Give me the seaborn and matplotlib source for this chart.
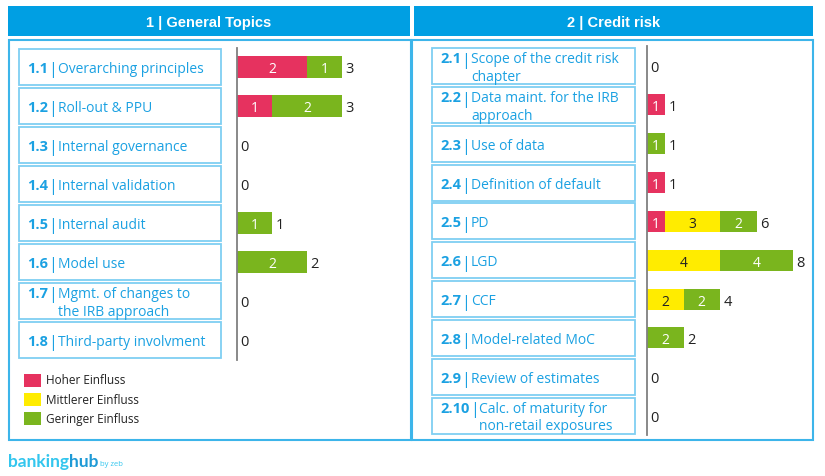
import numpy as np
import pandas as pd
import matplotlib
matplotlib.use("Agg")
import matplotlib.pyplot as plt
from matplotlib.patches import Rectangle
import seaborn as sns

sns.set_theme(style="white")
plt.rcParams['font.family'] = ['Open Sans', 'DejaVu Sans']

# data
left_ids = ["1.1", "1.2", "1.3", "1.4", "1.5", "1.6", "1.7", "1.8"]
left_topics = ["Overarching principles", "Roll-out & PPU", "Internal governance",
               "Internal validation", "Internal audit", "Model use",
               "Mgmt. of changes to\nthe IRB approach", "Third-party involvment"]
left_hoch = [2, 1, 0, 0, 0, 0, 0, 0]
left_mittel = [0, 0, 0, 0, 0, 0, 0, 0]
left_gering = [1, 2, 0, 0, 1, 2, 0, 0]

right_ids = ["2.1", "2.2", "2.3", "2.4", "2.5", "2.6", "2.7", "2.8", "2.9", "2.10"]
right_topics = ["Scope of the credit risk\nchapter", "Data maint. for the IRB\napproach",
                "Use of data", "Definition of default", "PD", "LGD", "CCF",
                "Model-related MoC", "Review of estimates",
                "Calc. of maturity for\nnon-retail exposures"]
right_hoch = [0, 1, 0, 1, 1, 0, 0, 0, 0, 0]
right_mittel = [0, 0, 0, 0, 3, 4, 2, 0, 0, 0]
right_gering = [0, 0, 1, 0, 2, 4, 2, 2, 0, 0]

legend_labels = ["Hoher Einfluss", "Mittlerer Einfluss", "Geringer Einfluss"]
headers = ["1 | General Topics", "2 | Credit risk"]

RED, YELLOW, GREEN = "#E6325F", "#FFEC00", "#7AB51E"
BLUE = "#009FE3"
BOX_EDGE = "#7FCFF2"
TXT_BLUE = "#1BA1E2"

W, H = 825, 477
fig = plt.figure(figsize=(W / 100, H / 100), dpi=100)
bg = fig.add_axes([0, 0, 1, 1])
bg.set_xlim(0, W)
bg.set_ylim(H, 0)
bg.axis("off")
renderer = fig.canvas.get_renderer()


def px_axes(x, y, w, h):
    return fig.add_axes([x / W, 1 - (y + h) / H, w / W, h / H])


# headers and outer panels
for hx, hw, title in [(8, 402, headers[0]), (414, 399, headers[1])]:
    bg.add_patch(Rectangle((hx, 7), hw, 30, facecolor=BLUE, edgecolor="none"))
    bg.text(hx + hw / 2, 22.5, title, color="white", fontsize=10.5, fontweight="bold",
            family=["Liberation Sans", "DejaVu Sans"], ha="center", va="center")
bg.add_patch(Rectangle((8.5, 41), 402, 400, facecolor="none", edgecolor="#3DB5EA", lw=1.5))
bg.add_patch(Rectangle((411.5, 41), 401, 400, facecolor="none", edgecolor="#3DB5EA", lw=1.5))


def label_boxes(ids, topics, x0, x1, y0, step, hbox):
    for i, (num, topic) in enumerate(zip(ids, topics)):
        top = y0 + step * i
        bg.add_patch(Rectangle((x0, top), x1 - x0, hbox, facecolor="white",
                               edgecolor=BOX_EDGE, lw=1.3))
        yc = top + hbox / 2
        lines = topic.split("\n")
        base = yc + 5 - 8.8 * (len(lines) - 1)
        t = bg.text(x0 + 8, base, num, color=TXT_BLUE, fontsize=10.5, fontweight="bold",
                    ha="left", va="baseline")
        bb = t.get_window_extent(renderer)
        bar = bg.text(bb.x1 + 0.5, base + 1.5, "|", color=TXT_BLUE, fontsize=11.5,
                      ha="left", va="baseline")
        bb2 = bar.get_window_extent(renderer)
        for k, line in enumerate(lines):
            bg.text(bb2.x1 + 0.5, base + 17.6 * k, line, color=TXT_BLUE, fontsize=10,
                    ha="left", va="baseline")


label_boxes(left_ids, left_topics, 19, 221, 50, 39, 35.5)
label_boxes(right_ids, right_topics, 432, 635, 49, 38.85, 36)


def stacked(ax, ids, hoch, mittel, gering, unit_px, ax_w):
    df = pd.DataFrame({"id": ids, "hoch": hoch, "mittel": mittel, "gering": gering})
    left = np.zeros(len(df))
    for col, c, tc in [("hoch", RED, "white"), ("mittel", YELLOW, "#222222"),
                       ("gering", GREEN, "white")]:
        sns.barplot(data=df, x=col, y="id", orient="h", color=c, width=0.54,
                    left=left, ax=ax, errorbar=None, saturation=1, linewidth=0)
        for i, v in enumerate(df[col]):
            if v > 0:
                ax.text(left[i] + v / 2, i, str(v), color=tc, fontsize=10,
                        ha="center", va="center_baseline")
        left = left + df[col].to_numpy()
    for i, tot in enumerate(left):
        ax.annotate(str(int(tot)), (tot, i), xytext=(2.5, 0), textcoords="offset points",
                    ha="left", va="center_baseline", fontsize=10.5, color="#222222")
    ax.set_xlim(0, ax_w / unit_px)
    ax.set_ylim(len(df) - 0.5, -0.5)
    ax.set_xlabel("")
    ax.set_ylabel("")
    ax.set_xticks([])
    ax.set_yticks([])
    ax.patch.set_alpha(0)
    for s in ["top", "right", "bottom"]:
        ax.spines[s].set_visible(False)
    ax.spines["left"].set_color("#808080")
    ax.spines["left"].set_linewidth(1.3)


axl = px_axes(237, 48.5, 160, 312)
stacked(axl, left_ids, left_hoch, left_mittel, left_gering, 35, 160)
axr = px_axes(647, 47.5, 160, 388.5)
stacked(axr, right_ids, right_hoch, right_mittel, right_gering, 18.25, 160)

# legend
for i, (lab, c) in enumerate(zip(legend_labels, [RED, YELLOW, GREEN])):
    y = 381 + 19.3 * i
    bg.add_patch(Rectangle((24, y - 6.5), 17, 13, facecolor=c, edgecolor="none"))
    bg.text(46, y, lab, fontsize=8.5, color="#222222", ha="left", va="center")

# logo
t = bg.text(8, 462, "banking", fontsize=12.5, fontweight="bold", color="#33C6EE",
            family=["Lato", "DejaVu Sans"], ha="left", va="center")
bb = t.get_window_extent(renderer)
t2 = bg.text(bb.x1, 462, "hub", fontsize=12.5, fontweight="bold", color="#1E9AD6",
             family=["Lato", "DejaVu Sans"], ha="left", va="center")
bb2 = t2.get_window_extent(renderer)
bg.text(bb2.x1 + 2, 465, "by zeb", fontsize=5.5, color="#33C6EE", ha="left", va="center")

fig.savefig("out.png", dpi=100)
